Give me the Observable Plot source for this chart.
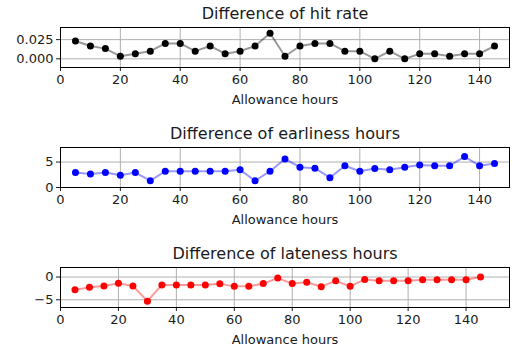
<!DOCTYPE html>
<html>
<head>
<meta charset="utf-8">
<script src="https://cdn.jsdelivr.net/npm/d3@7"></script>
<script src="https://cdn.jsdelivr.net/npm/@observablehq/plot@0.6"></script>
<style>
  body { margin: 0; background: white; }
  #chart { width: 513px; height: 351px; overflow: hidden; }
  #chart svg { display: block; }
</style>
</head>
<body>
<div id="chart"></div>
<script>
const allowanceHours = [5, 10, 15, 20, 25, 30, 35, 40, 45, 50, 55, 60, 65, 70, 75, 80, 85, 90, 95, 100, 105, 110, 115, 120, 125, 130, 135, 140, 145];
const hitRateDiff = [0.0233, 0.0167, 0.0133, 0.0033, 0.0067, 0.01, 0.02, 0.02, 0.01, 0.0167, 0.0067, 0.01, 0.0167, 0.0333, 0.0033, 0.0167, 0.02, 0.02, 0.01, 0.01, 0, 0.01, 0, 0.0067, 0.0067, 0.0033, 0.0067, 0.0067, 0.0167];
const earlinessDiff = [2.93, 2.67, 2.93, 2.4, 2.93, 1.33, 3.2, 3.2, 3.2, 3.2, 3.2, 3.47, 1.33, 3.2, 5.6, 4.0, 3.8, 1.93, 4.27, 3.2, 3.73, 3.47, 4.0, 4.4, 4.27, 4.27, 6.07, 4.27, 4.73];
const latenessDiff = [-2.8, -2.27, -1.97, -1.36, -1.97, -5.3, -1.74, -1.74, -1.74, -1.74, -1.5, -2.05, -2.05, -1.44, -0.23, -1.44, -1.14, -2.12, -0.83, -2.05, -0.53, -0.83, -0.83, -0.83, -0.6, -0.6, -0.6, -0.6, 0];
const xTicks = [0, 20, 40, 60, 80, 100, 120, 140];
const hitTicks = [0, 0.025];
const earlyTicks = [0, 5];
const lateTicks = [-5, 0];
const titles = ["Difference of hit rate", "Difference of earliness hours", "Difference of lateness hours"];
const xLabel = "Allowance hours";

const panels = [
  {title: titles[0], values: hitRateDiff, color: "black", yDomain: [-0.0113, 0.0408], xDomain: [0, 150], yTicks: hitTicks, fmt: d3.format(".3f"), height: 120},
  {title: titles[1], values: earlinessDiff, color: "blue", yDomain: [0, 7.86], xDomain: [0, 150], yTicks: earlyTicks, fmt: d3.format("d"), height: 120},
  {title: titles[2], values: latenessDiff, color: "red", yDomain: [-6.7, 2.1], xDomain: [0, 155], yTicks: lateTicks, fmt: (d) => d < 0 ? "\u2212" + Math.abs(d) : String(d), height: 111}
];

const root = document.getElementById("chart");
for (const p of panels) {
  const data = allowanceHours.map((x, i) => ({x, y: p.values[i]}));
  const chart = Plot.plot({
    width: 513,
    height: p.height,
    marginLeft: 60,
    marginRight: 4,
    marginTop: 27,
    marginBottom: p.height - 67,
    style: {fontFamily: "DejaVu Sans", fontSize: "13px", color: "#1a1a1a", background: "white", overflow: "visible"},
    x: {domain: p.xDomain},
    y: {domain: p.yDomain},
    marks: [
      Plot.gridX(xTicks, {stroke: "#b0b0b0", strokeOpacity: 1, strokeWidth: 1}),
      Plot.gridY(p.yTicks, {stroke: "#b0b0b0", strokeOpacity: 1, strokeWidth: 1}),
      Plot.axisX({ticks: xTicks, tickSize: 4, tickPadding: 3, fontSize: 13, label: null}),
      Plot.axisY({ticks: p.yTicks, tickSize: 4, tickPadding: 3, fontSize: 13, label: null, tickFormat: p.fmt}),
      Plot.line(data, {x: "x", y: "y", stroke: p.color, strokeOpacity: 0.4, strokeWidth: 2}),
      Plot.dot(data, {x: "x", y: "y", fill: p.color, r: 3.5}),
      Plot.frame({stroke: "black", strokeWidth: 1}),
      Plot.text([p.title], {frameAnchor: "top", lineAnchor: "middle", dy: -14, fontSize: 16, fill: "#1a1a1a"}),
      Plot.text([xLabel], {frameAnchor: "bottom", lineAnchor: "middle", dy: 32, fontSize: 13, fill: "#1a1a1a"})
    ]
  });
  root.appendChild(chart);
}
</script>
</body>
</html>
